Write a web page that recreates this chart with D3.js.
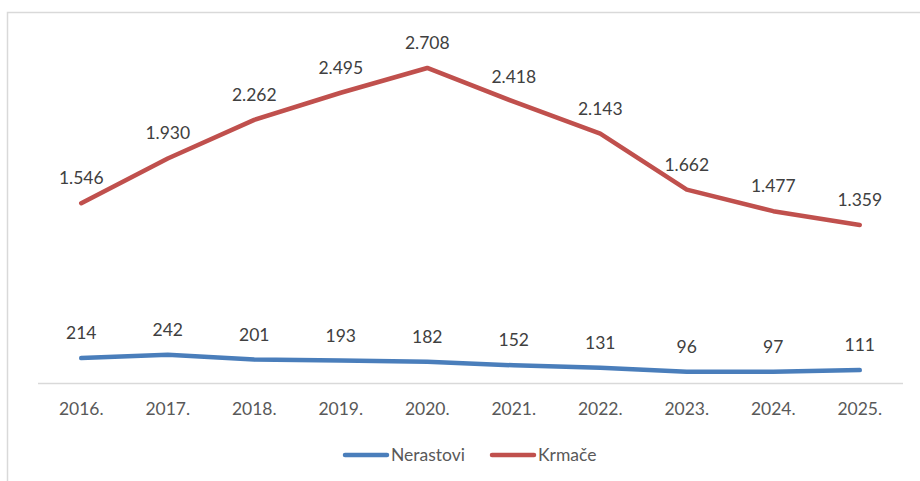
<!DOCTYPE html>
<html><head><meta charset="utf-8">
<script src="https://cdn.jsdelivr.net/npm/d3@7"></script>
<style>body{margin:0;background:#fff;}svg{display:block;font-family:Lato,"Open Sans",sans-serif;}</style>
</head><body>
<svg id="c" width="920" height="481"></svg>
<script>
const categories = ["2016.","2017.","2018.","2019.","2020.","2021.","2022.","2023.","2024.","2025."];
const nerastovi = [214,242,201,193,182,152,131,96,97,111];
const krmace = [1546,1930,2262,2495,2708,2418,2143,1662,1477,1359];
const seriesNames = ["Nerastovi","Krmače"];
const seriesColors = ["#4a7ebb","#c0504d"];
const fmt = v => d3.format(",")(v).replace(/,/g,".");

const svg = d3.select("#c");
svg.append("path").attr("d","M7.5,481 V12.5 H920").attr("fill","none").attr("stroke","#d9d9d9").attr("stroke-width",1.5);

const x = d3.scaleBand().domain(categories).range([38,903]);
const y = d3.scaleLinear().domain([0,3000]).range([383,34]);

svg.append("line").attr("x1",38).attr("x2",903).attr("y1",383.5).attr("y2",383.5).attr("stroke","#d9d9d9").attr("stroke-width",1.5);

const xAxis = svg.append("g").attr("transform","translate(0,383)")
  .call(d3.axisBottom(x).tickSize(0).tickPadding(20));
xAxis.select(".domain").remove();
xAxis.selectAll("text").attr("font-size",17.5).attr("fill","#595959").attr("font-family","Lato,'Open Sans',sans-serif");

const cx = d => x(d) + x.bandwidth()/2;
const line = d3.line().x((d,i)=>cx(categories[i])).y(d=>y(d));
const data = [nerastovi, krmace];
data.forEach((s,k)=>{
  svg.append("path").datum(s).attr("d",line).attr("fill","none")
    .attr("stroke",seriesColors[k]).attr("stroke-width",4.5)
    .attr("stroke-linejoin","round").attr("stroke-linecap","round");
  svg.append("g").selectAll("text").data(s).join("text")
    .attr("x",(d,i)=>cx(categories[i])).attr("y",d=>y(d)-19)
    .attr("text-anchor","middle").attr("font-size",17.5).attr("fill","#404040")
    .text(d=>fmt(d));
});

const leg = [{x:343,name:seriesNames[0],c:seriesColors[0]},{x:490,name:seriesNames[1],c:seriesColors[1]}];
leg.forEach(l=>{
  svg.append("line").attr("x1",l.x+2).attr("x2",l.x+44).attr("y1",455).attr("y2",455)
    .attr("stroke",l.c).attr("stroke-width",4.5).attr("stroke-linecap","round");
  svg.append("text").attr("x",l.x+48).attr("y",461).attr("font-size",17.5).attr("fill","#595959").text(l.name);
});
</script>
</body></html>
